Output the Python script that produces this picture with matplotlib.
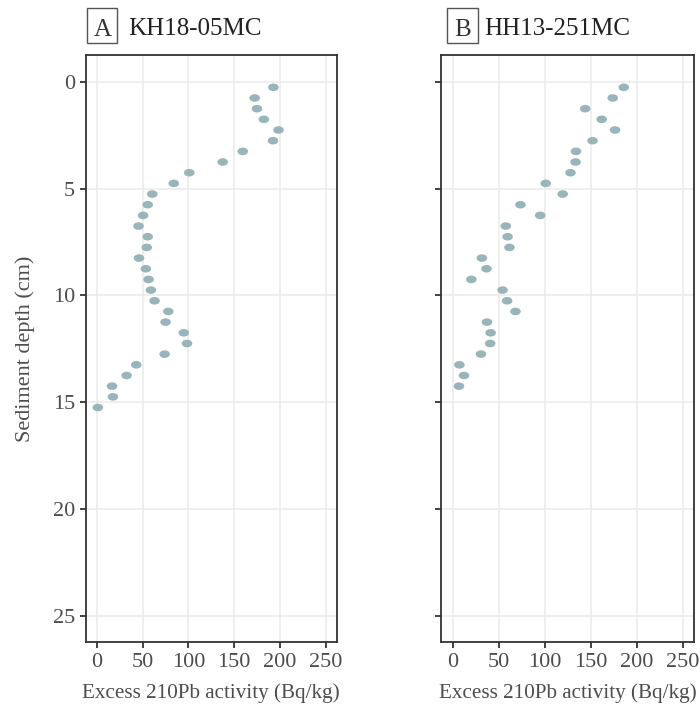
import numpy as np
import matplotlib
matplotlib.use("Agg")
import matplotlib.pyplot as plt
from matplotlib.path import Path
from matplotlib.patches import Rectangle

plt.rcParams['font.family'] = ['Liberation Serif', 'DejaVu Serif']

# Panel A: KH18-05MC
depth_a = [0.25, 0.75, 1.25, 1.75, 2.25, 2.75, 3.25, 3.75, 4.25, 4.75,
           5.25, 5.75, 6.25, 6.75, 7.25, 7.75, 8.25, 8.75, 9.25, 9.75,
           10.25, 10.75, 11.25, 11.75, 12.25, 12.75, 13.25, 13.75, 14.25,
           14.75, 15.25]
act_a = [193, 172.5, 175, 182.5, 198.5, 192.5, 159.5, 137.5, 101, 84,
         60.5, 55.5, 50.5, 45.5, 55.5, 54.5, 46, 53.5, 56.5, 59, 63,
         78, 75, 95, 98.5, 74, 43, 32.5, 16.5, 17.5, 1]

# Panel B: HH13-251MC
depth_b = [0.25, 0.75, 1.25, 1.75, 2.25, 2.75, 3.25, 3.75, 4.25, 4.75,
           5.25, 5.75, 6.25, 6.75, 7.25, 7.75, 8.25, 8.75, 9.25, 9.75,
           10.25, 10.75, 11.25, 11.75, 12.25, 12.75, 13.25, 13.75, 14.25]
act_b = [186, 174, 144, 162, 176.5, 152, 134, 133.5, 128, 101, 119.5,
         73.5, 95, 57.5, 59.5, 61.5, 31.5, 36.5, 20, 54, 59, 68, 37,
         41, 40.5, 30.5, 7, 12, 6.5]

panels = [("A", "KH18-05MC", act_a, depth_a),
          ("B", "HH13-251MC", act_b, depth_b)]

xticks = [0, 50, 100, 150, 200, 250]
yticks = [0, 5, 10, 15, 20, 25]

# ellipse marker
circ = Path.unit_circle()
ell = Path(circ.vertices * np.array([1.0, 0.72]), circ.codes)

fig = plt.figure(figsize=(7.0, 7.13), dpi=100)
W, H = 700, 713
rects = [(85.5, 337.0), (441.5, 694.0)]
boxes = [(87.3, 117.3), (447.3, 477.7)]
top_px, bot_px = 55.3, 642.3

for i, ((letter, name, xv, yv), (l, r), (bl, br)) in enumerate(zip(panels, rects, boxes)):
    ax = fig.add_axes([l / W, (H - bot_px) / H, (r - l) / W, (bot_px - top_px) / H])
    ax.scatter(xv, yv, marker=ell, s=(7.6) ** 2, color='#99B5B9',
               edgecolors='none', zorder=3)
    ax.set_xlim(-12.5, 262.5)
    ax.set_ylim(26.25, -1.25)
    ax.set_xticks(xticks)
    ax.set_yticks(yticks)
    ax.grid(True, color='#EBEBEB', linewidth=1.1, zorder=0)
    ax.set_axisbelow(True)
    for sp in ax.spines.values():
        sp.set_color('#333333')
        sp.set_linewidth(1.3)
    ax.tick_params(axis='both', length=4.5, width=1.3, color='#333333',
                   labelsize=16, labelcolor='#4D4D4D', pad=3)
    if i == 0:
        ax.set_ylabel("Sediment depth (cm)", fontsize=16, color='#4D4D4D',
                      labelpad=13)
    else:
        ax.set_yticklabels([])
    ax.set_xlabel("Excess 210Pb activity (Bq/kg)", fontsize=15.2,
                  color='#4D4D4D', labelpad=8)
    # title: boxed letter + name
    bt, bb = 8.3, 42.7
    fig.patches.append(Rectangle((bl / W, (H - bb) / H), (br - bl) / W,
                                 (bb - bt) / H, transform=fig.transFigure,
                                 fill=False, ec='#555555', lw=1.0))
    fig.text((bl + br) / 2 / W, (H - 35.5) / H, letter, fontsize=18,
             color='#333333', ha='center', va='baseline')
    fig.text((l + 43) / W, (H - 35) / H, name, fontsize=18, color='#222222',
             ha='left', va='baseline')

fig.savefig("out.png", dpi=100, facecolor='white')
